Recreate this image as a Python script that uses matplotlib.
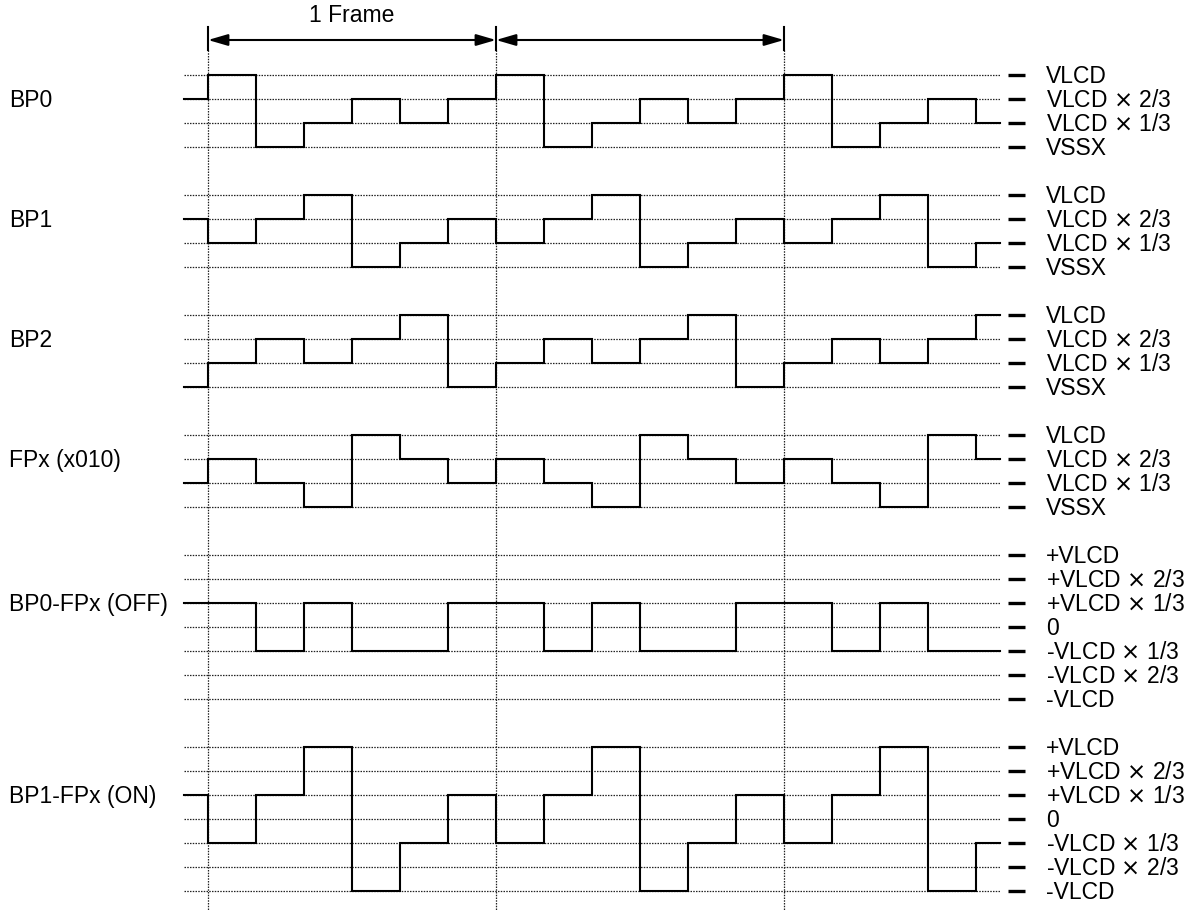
import matplotlib
matplotlib.use("Agg")
import matplotlib.pyplot as plt

plt.rcParams['font.family'] = ['Liberation Sans', 'DejaVu Sans']
plt.rcParams['mathtext.fontset'] = 'dejavusans'

# ---- data ----
row_names = ["BP0", "BP1", "BP2", "FPx (x010)", "BP0-FPx (OFF)", "BP1-FPx (ON)"]
# level (in VLCD/3 units) before the first frame, then slots 0..16 (3 frames, last one cut)
bp0 = [2, 3, 0, 1, 2, 1, 2, 3, 0, 1, 2, 1, 2, 3, 0, 1, 2, 1]
bp1 = [2, 1, 2, 3, 0, 1, 2, 1, 2, 3, 0, 1, 2, 1, 2, 3, 0, 1]
bp2 = [0, 1, 2, 1, 2, 3, 0, 1, 2, 1, 2, 3, 0, 1, 2, 1, 2, 3]
fpx = [1, 2, 1, 0, 3, 2, 1, 2, 1, 0, 3, 2, 1, 2, 1, 0, 3, 2]
off = [1, 1, -1, 1, -1, -1, 1, 1, -1, 1, -1, -1, 1, 1, -1, 1, -1, -1]
on_ = [1, -1, 1, 3, -3, -1, 1, -1, 1, 3, -3, -1, 1, -1, 1, 3, -3, -1]
series = [bp0, bp1, bp2, fpx, off, on_]

levels4 = ["VLCD", r"VLCD $\times$ 2/3", r"VLCD $\times$ 1/3", "VSSX"]
levels4_vals = [3, 2, 1, 0]
levels7 = ["+VLCD", r"+VLCD $\times$ 2/3", r"+VLCD $\times$ 1/3", "0",
           r"-VLCD $\times$ 1/3", r"-VLCD $\times$ 2/3", "-VLCD"]
levels7_vals = [3, 2, 1, 0, -1, -2, -3]
row_levels = [(levels4, levels4_vals)] * 4 + [(levels7, levels7_vals)] * 2
label_level = [2, 2, 2, 2, 1, 1]
frame_title = "1 Frame"

# ---- layout (pixels) ----
W, H = 1194, 910
X0, SLOT = 208, 48
row_top = [75, 195, 315, 435, 555, 747]
STEP = 24


def t(px):
    return (px - X0) / SLOT


def yl(row, v):
    return row_top[row] + (3 - v) * STEP


fig = plt.figure(figsize=(W / 100, H / 100), dpi=100)
ax = fig.add_axes([0, 0, 1, 1])
ax.set_xlim(t(0), t(W))
ax.set_ylim(H, 0)
ax.axis('off')

t_start, t_end = t(184), t(1000)
dot = dict(color='#222222', lw=0.9, linestyle=(0, (1.2, 1.0)), zorder=1)
FS = 16.5
BASE = 8

for r, vals in enumerate(series):
    labels, lv = row_levels[r]
    for lab, v in zip(labels, lv):
        y = yl(r, v)
        ax.plot([t_start, t_end], [y, y], **dot)
        ax.plot([t(1008), t(1025)], [y, y], color='black', lw=2.4,
                solid_capstyle='butt', zorder=2)
        ax.text(t(1046), y + BASE, lab, fontsize=FS, va='baseline', ha='left')
    xs = [t_start] + list(range(len(vals) - 1)) + [t_end]
    ys = [yl(r, v) for v in vals] + [yl(r, vals[-1])]
    ax.plot(xs, ys, drawstyle='steps-post', color='black', lw=1.5,
            solid_joinstyle='miter', zorder=3)
    ax.text(t(9), yl(r, label_level[r]) + BASE, row_names[r],
            fontsize=FS, va='baseline', ha='left')

# frame markers
for fx in [0, 6, 12]:
    ax.plot([fx, fx], [50, H], **dot)
    ax.plot([fx, fx], [27, 50], color='black', lw=1.5, zorder=3)

for a, b in [(0, 6), (6, 12)]:
    ax.annotate('', xy=(b, 40), xytext=(a, 40),
                arrowprops=dict(arrowstyle='<|-|>,head_length=1.2,head_width=0.35',
                                color='black', lw=1.5, shrinkA=0, shrinkB=0))
ax.text(3, 16, frame_title, fontsize=FS, ha='center', va='center')

fig.savefig('out.png', dpi=100)
